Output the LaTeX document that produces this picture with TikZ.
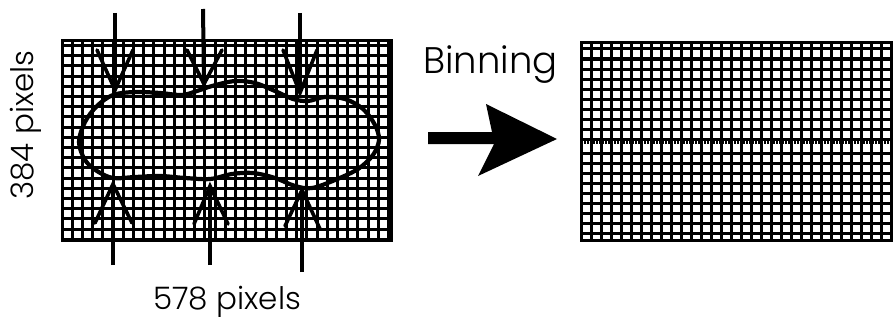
\documentclass[tikz,border=0pt]{standalone}
\usepackage{fontspec}
\IfFontExistsTF{Poppins Light}{\newfontfamily\lblfont{Poppins Light}}{\newfontfamily\lblfont{Poppins}}
\begin{document}
\begin{tikzpicture}[x=1pt,y=-1pt,
  gridline/.style={line width=3.0pt,black},
  border/.style={line width=3.0pt,black},
  shaft/.style={line width=4pt,black},
  barb/.style={line width=3.6pt,black,line cap=round,line join=miter},
  blob/.style={line width=4.2pt,black},
  lbl/.style={inner sep=0pt,font=\lblfont\fontsize{31}{31}\selectfont},
  biglbl/.style={inner sep=0pt,font=\lblfont\fontsize{37}{37}\selectfont}]
\useasboundingbox (0,0) rectangle (893,321);
\fill[white] (0,0) rectangle (893,321);

% ---- left grid
\begin{scope}
\clip (62,41) rectangle (391,240);
\foreach \i in {0,...,32} \draw[gridline] ({62+10.2*\i},41) -- ({62+10.2*\i},240);
\foreach \j in {0,...,19} \draw[gridline] (62,{45.5+10.2*\j}) -- (391,{45.5+10.2*\j});
\end{scope}
\draw[border] (62,41) rectangle (391,240);

% ---- right grid
\begin{scope}
\clip (581,43) rectangle (893,240);
\foreach \i in {0,...,31} \draw[gridline] ({581+10*\i},43) -- ({581+10*\i},240);
\foreach \j in {0,...,9} \draw[gridline] (581,{49+10*\j}) -- (893,{49+10*\j});
\foreach \j in {0,...,8} \draw[gridline] (581,{153+10*\j}) -- (893,{153+10*\j});
\end{scope}
\draw[border] (893,43) -- (581,43) -- (581,240) -- (893,240);
\coordinate (midL) at (581,142);
\coordinate (midR) at (893,142);
\draw[line width=3.4pt,dash pattern=on 2pt off 1pt] (midL) -- (midR);

% ---- blob
\draw[blob] plot[smooth cycle,tension=0.55] coordinates {
 (79,142) (85,122) (97,106) (113,95) (135,92) (160,93) (182,95) (197,91)
 (212,86) (235,81) (255,83) (275,91) (293,99) (308,101) (325,97) (345,99)
 (363,109) (375,125) (379,140) (373,155) (358,169) (335,180) (312,188)
 (295,186) (275,178) (253,173) (232,174) (210,179) (185,178) (160,176)
 (135,177) (113,178) (97,171) (85,160)};

% ---- down arrows
\coordinate (d1s) at (115,13); \coordinate (d1t) at (115,90);
\coordinate (d1l) at (97,50);  \coordinate (d1r) at (133,50);
\coordinate (d2s) at (203,9);  \coordinate (d2t) at (204,84);
\coordinate (d2l) at (187,50); \coordinate (d2r) at (222,50);
\coordinate (d3s) at (300,13); \coordinate (d3t) at (300,93);
\coordinate (d3l) at (283,50); \coordinate (d3r) at (317,50);
\foreach \k in {1,2,3}{
  \draw[shaft] (d\k s) -- (d\k t);
  \draw[barb] (d\k l) -- (d\k t) -- (d\k r);
}
% ---- up arrows
\coordinate (u1s) at (113,265); \coordinate (u1t) at (113,184);
\coordinate (u1l) at (95,223);  \coordinate (u1r) at (132,223);
\coordinate (u2s) at (210,265); \coordinate (u2t) at (210,186);
\coordinate (u2l) at (194,224); \coordinate (u2r) at (228,224);
\coordinate (u3s) at (302,272); \coordinate (u3t) at (302,190);
\coordinate (u3l) at (285,226); \coordinate (u3r) at (320,229);
\foreach \k in {1,2,3}{
  \draw[shaft] (u\k s) -- (u\k t);
  \draw[barb] (u\k l) -- (u\k t) -- (u\k r);
}

% ---- big arrow
\fill[black] (428,132) -- (492,132) -- (486,104) -- (557,139) -- (478,176)
  -- (494,144) -- (428,144) -- cycle;

% ---- labels
\node[biglbl,anchor=base west] (binning) at (423,73) {Binning};
\node[lbl,anchor=base west] (wlbl) at (153,309) {578 pixels};
\node[lbl,anchor=base west,rotate=90] (hlbl) at (33,200) {384 pixels};
\end{tikzpicture}
\end{document}
